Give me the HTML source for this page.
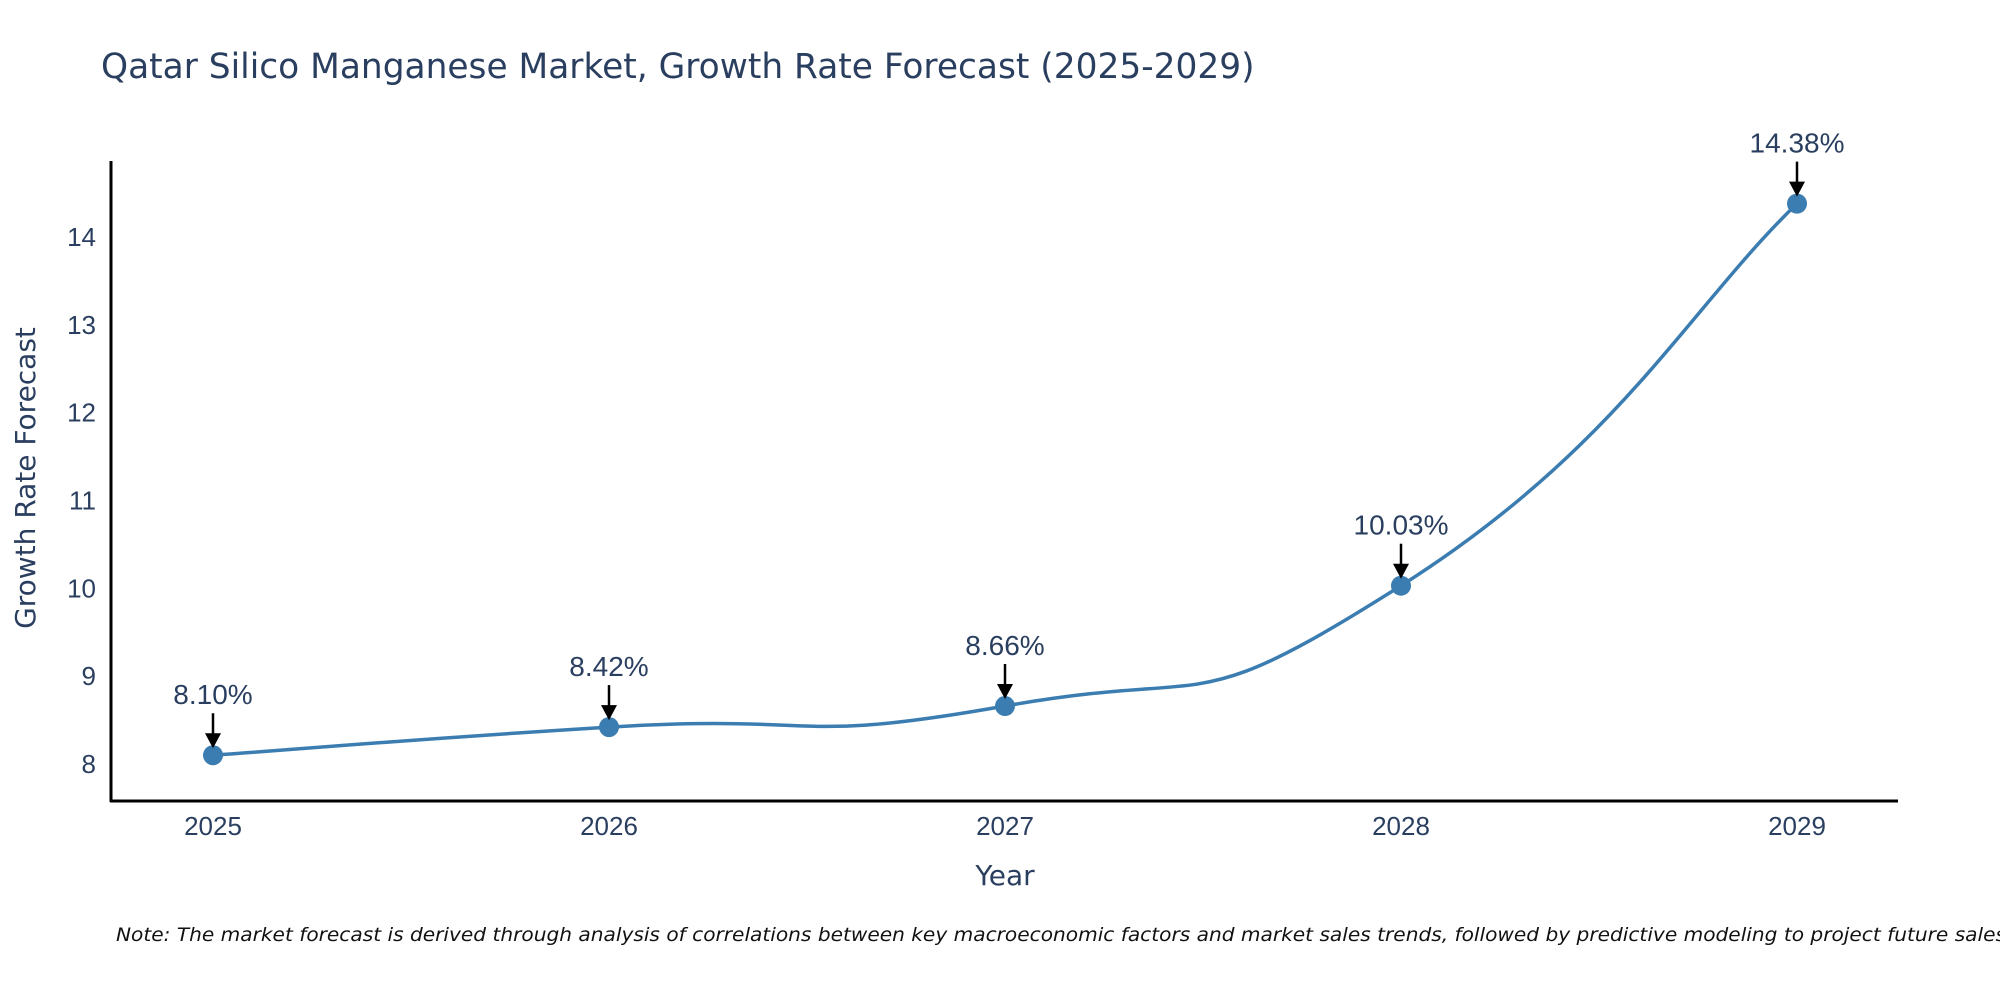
<!DOCTYPE html>
<html><head><meta charset="utf-8"><style>
html,body{margin:0;padding:0;background:#fff;}
svg{display:block;font-family:"DejaVu Sans","Liberation Sans",sans-serif;}
</style></head><body>
<svg id="chart" width="2000" height="1000" viewBox="0 0 2000 1000">
<text x="101" y="78" font-size="34.4" fill="#2a3f5f">Qatar Silico Manganese Market, Growth Rate Forecast (2025-2029)</text>
<g id="yticks"></g>
<g id="xticks"></g>
<line x1="111" y1="161" x2="111" y2="802" stroke="#000" stroke-width="3"/>
<line x1="110" y1="801" x2="1898" y2="801" stroke="#000" stroke-width="3"/>
<text x="0" y="0" transform="translate(35,478) rotate(-90)" text-anchor="middle" font-size="28" fill="#2a3f5f">Growth Rate Forecast</text>
<text x="1005" y="885" text-anchor="middle" font-size="28" fill="#2a3f5f">Year</text>
<g id="series"></g>
<text x="116" y="941" font-size="19" font-style="italic" fill="#111" textLength="1890" lengthAdjust="spacingAndGlyphs">Note: The market forecast is derived through analysis of correlations between key macroeconomic factors and market sales trends, followed by predictive modeling to project future sales</text>
</svg>
<script>
const years = [2025, 2026, 2027, 2028, 2029];
const growth = [8.10, 8.42, 8.66, 10.03, 14.38];
const yTickValues = [8, 9, 10, 11, 12, 13, 14];
const labels = ["8.10%", "8.42%", "8.66%", "10.03%", "14.38%"];

const NS = "http://www.w3.org/2000/svg";
const xScale = v => 213 + (v - 2025) * (1797 - 213) / 4;
const yScale = v => 764 - (v - 8) * (764 - 237) / 6;
function mk(tag, attrs, parent) {
  const e = document.createElementNS(NS, tag);
  for (const k in attrs) e.setAttribute(k, attrs[k]);
  parent.appendChild(e);
  return e;
}
const lab = '"Liberation Sans", sans-serif';
const yt = document.getElementById('yticks');
yTickValues.forEach(v => {
  const t = mk('text', {x: 96, y: yScale(v) + 9, 'text-anchor': 'end', 'font-size': 26, fill: '#2a3f5f', 'font-family': lab}, yt);
  
  
  t.textContent = v;
});
const xt = document.getElementById('xticks');
years.forEach(v => {
  const t = mk('text', {x: xScale(v), y: 835, 'text-anchor': 'middle', 'font-size': 26, fill: '#2a3f5f', 'font-family': lab}, xt);
  
  
  t.textContent = v;
});
const g = document.getElementById('series');
const pts = years.map((y, i) => [xScale(y), yScale(growth[i])]);
const s = 0.55;
let d = `M${pts[0][0]},${pts[0][1]}`;
for (let i = 0; i < pts.length - 1; i++) {
  const p0 = pts[Math.max(0, i - 1)], p1 = pts[i], p2 = pts[i + 1], p3 = pts[Math.min(pts.length - 1, i + 2)];
  const c1 = [p1[0] + (p2[0] - p0[0]) * s / 2, p1[1] + (p2[1] - p0[1]) * s / 2];
  const c2 = [p2[0] - (p3[0] - p1[0]) * s / 2, p2[1] - (p3[1] - p1[1]) * s / 2];
  d += ` C${c1[0]},${c1[1]} ${c2[0]},${c2[1]} ${p2[0]},${p2[1]}`;
}
const line = mk('path', {d: d, fill: 'none', stroke: '#3b7db1', 'stroke-width': 3.5}, g);


pts.forEach((p, i) => {
  const c = mk('circle', {cx: p[0], cy: p[1], r: 10, fill: '#3b7db1'}, g);
  
  
  const a = mk('line', {x1: p[0], y1: p[1] - 42, x2: p[0], y2: p[1] - 20, stroke: '#000', 'stroke-width': 2.5}, g);
  
  
  const h = mk('path', {d: `M${p[0] - 8},${p[1] - 22} L${p[0] + 8},${p[1] - 22} L${p[0]},${p[1] - 7} Z`, fill: '#000'}, g);
  
  
  const t = mk('text', {x: p[0], y: p[1] - 51, 'text-anchor': 'middle', 'font-size': 28, fill: '#2a3f5f', 'font-family': lab}, g);
  
  
  t.textContent = labels[i];
});
</script>
</body></html>
